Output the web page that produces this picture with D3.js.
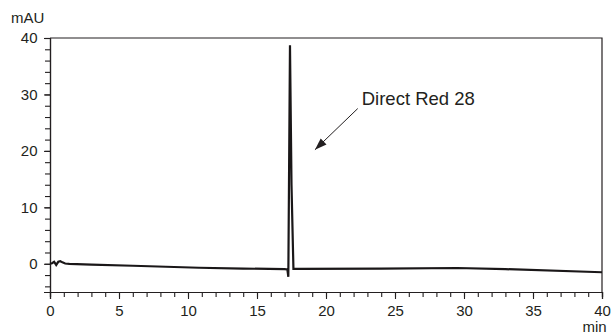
<!DOCTYPE html>
<html>
<head>
<meta charset="utf-8">
<script src="https://cdn.jsdelivr.net/npm/d3@7"></script>
<style>
  html, body { margin: 0; padding: 0; background: #fff; }
  svg { display: block; font-family: "Liberation Sans", Arial, sans-serif; }
</style>
</head>
<body>
<svg id="chart" width="611" height="333"></svg>
<script>
// Chromatogram trace: retention time (min) and absorbance (mAU)
const timeMin = [0, 0.15, 0.3, 0.45, 0.6, 0.75, 0.9, 1.1, 1.4, 3, 6, 10.8, 14, 17.0, 17.2, 17.27, 17.39, 17.5, 17.64, 18, 24, 29.5, 33, 40];
const signalMAU = [0, 0.1, 0.35, -0.2, 0.35, 0.45, 0.25, 0.05, 0.0, -0.15, -0.35, -0.7, -0.85, -0.95, -1.0, -2.3, 38.7, 14, -0.9, -0.9, -0.85, -0.75, -0.95, -1.5];

// Axis ticks
const xMajorTicks = [0, 5, 10, 15, 20, 25, 30, 35, 40];
const xMinorTicks = d3.range(0, 41, 1);
const yMajorTicks = [0, 10, 20, 30, 40];
const yMinorTicks = [-4, -2, 0, 2, 4, 6, 8, 10, 12, 14, 16, 18, 20, 22, 24, 26, 28, 30, 32, 34, 36, 38, 40];

// Peak annotation
const peakLabel = "Direct Red 28";
const arrowTail = [22.3, 27.5];
const arrowTip = [19.2, 20.2];

const svg = d3.select("#chart");
const plotLeft = 50, plotRight = 602, plotTop = 38, plotBottom = 292;

const x = d3.scaleLinear().domain([0, 40]).range([plotLeft, plotRight]);
const y = d3.scaleLinear().domain([-5, 40]).range([plotBottom, plotTop]);

const ink = "#231f20";
const tickFont = "15px";

// Frame (top and right edges)
svg.append("path")
  .attr("d", `M${plotLeft},${plotTop}H${plotRight}V${plotBottom}`)
  .attr("fill", "none").attr("stroke", ink).attr("stroke-width", 1.2);

// X axis: minor and major ticks
const xAxisMinor = d3.axisBottom(x).tickValues(xMinorTicks).tickSize(5).tickFormat("");
const xAxisMajor = d3.axisBottom(x).tickValues(xMajorTicks).tickSize(7).tickPadding(6).tickFormat(d3.format("d"));
[xAxisMinor, xAxisMajor].forEach(ax => {
  const g = svg.append("g").attr("transform", `translate(0,${plotBottom})`).call(ax);
  g.selectAll("path.domain").attr("stroke", ink).attr("stroke-width", 1.2);
  g.selectAll("line").attr("stroke", ink).attr("stroke-width", 1.1);
  g.selectAll("text").attr("fill", ink).style("font-size", tickFont);
});

// Y axis: minor and major ticks
const yAxisMinor = d3.axisLeft(y).tickValues(yMinorTicks).tickSize(5).tickFormat("");
const yAxisMajor = d3.axisLeft(y).tickValues(yMajorTicks).tickSize(6).tickPadding(6.5).tickFormat(d3.format("d"));
[yAxisMinor, yAxisMajor].forEach(ax => {
  const g = svg.append("g").attr("transform", `translate(${plotLeft},0)`).call(ax);
  g.selectAll("path.domain").attr("stroke", ink).attr("stroke-width", 1.2);
  g.selectAll("line").attr("stroke", ink).attr("stroke-width", 1.1);
  g.selectAll("text").attr("fill", ink).style("font-size", tickFont);
});

// Unit labels
svg.append("text").attr("x", 11).attr("y", 23)
  .attr("fill", ink).style("font-size", tickFont).text("mAU");
svg.append("text").attr("x", 594.5).attr("y", 331.5).attr("text-anchor", "middle")
  .attr("fill", ink).style("font-size", tickFont).text("min");

// Trace
const line = d3.line().x((d, i) => x(timeMin[i])).y(d => y(d));
svg.append("path")
  .datum(signalMAU)
  .attr("d", line)
  .attr("fill", "none").attr("stroke", "#1a1718")
  .attr("stroke-width", 2.2).attr("stroke-linejoin", "miter");

// Annotation arrow and label
svg.append("defs").append("marker")
  .attr("id", "arrowhead").attr("viewBox", "0 0 10 10")
  .attr("refX", 10).attr("refY", 5)
  .attr("markerWidth", 12).attr("markerHeight", 12)
  .attr("markerUnits", "userSpaceOnUse")
  .attr("orient", "auto")
  .append("path").attr("d", "M0,1.5L10,5L0,8.5Z").attr("fill", ink);

svg.append("line")
  .attr("x1", x(arrowTail[0])).attr("y1", y(arrowTail[1]))
  .attr("x2", x(arrowTip[0])).attr("y2", y(arrowTip[1]))
  .attr("stroke", ink).attr("stroke-width", 1)
  .attr("marker-end", "url(#arrowhead)");

svg.append("text")
  .attr("x", x(arrowTail[0]) + 4).attr("y", y(arrowTail[1]) - 3.5)
  .attr("fill", ink).style("font-size", "18.5px").text(peakLabel);
</script>
</body>
</html>
